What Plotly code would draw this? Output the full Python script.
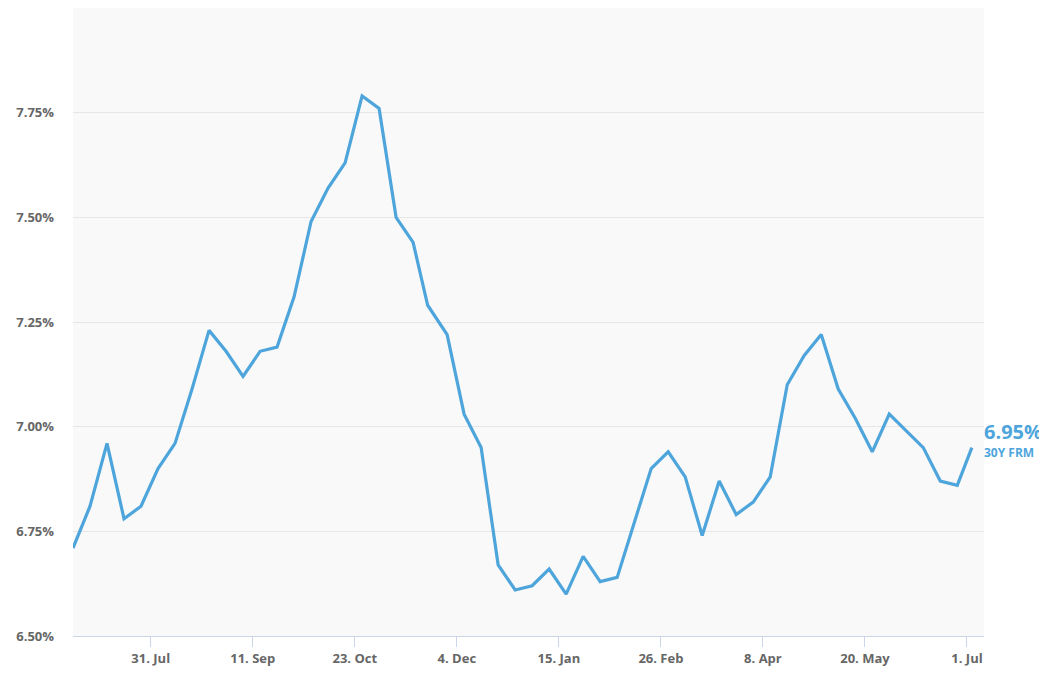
"""
30-year fixed mortgage rate, weekly
"""

import plotly.graph_objects as go

dates = [
    "2023-06-29", "2023-07-06", "2023-07-13", "2023-07-20", "2023-07-27",
    "2023-08-03", "2023-08-10", "2023-08-17", "2023-08-24", "2023-08-31",
    "2023-09-07", "2023-09-14", "2023-09-21", "2023-09-28", "2023-10-05",
    "2023-10-12", "2023-10-19", "2023-10-26", "2023-11-02", "2023-11-09",
    "2023-11-16", "2023-11-22", "2023-11-30", "2023-12-07", "2023-12-14",
    "2023-12-21", "2023-12-28", "2024-01-04", "2024-01-11", "2024-01-18",
    "2024-01-25", "2024-02-01", "2024-02-08", "2024-02-15", "2024-02-22",
    "2024-02-29", "2024-03-07", "2024-03-14", "2024-03-21", "2024-03-28",
    "2024-04-04", "2024-04-11", "2024-04-18", "2024-04-25", "2024-05-02",
    "2024-05-09", "2024-05-16", "2024-05-23", "2024-05-30", "2024-06-06",
    "2024-06-13", "2024-06-20", "2024-06-27", "2024-07-03",
]

rates = [
    6.71, 6.81, 6.96, 6.78, 6.81,
    6.90, 6.96, 7.09, 7.23, 7.18,
    7.12, 7.18, 7.19, 7.31, 7.49,
    7.57, 7.63, 7.79, 7.76, 7.50,
    7.44, 7.29, 7.22, 7.03, 6.95,
    6.67, 6.61, 6.62, 6.66, 6.60,
    6.69, 6.63, 6.64, 6.77, 6.90,
    6.94, 6.88, 6.74, 6.87, 6.79,
    6.82, 6.88, 7.10, 7.17, 7.22,
    7.09, 7.02, 6.94, 7.03, 6.99,
    6.95, 6.87, 6.86, 6.95,
]

tick_dates = [
    "2023-07-31", "2023-09-11", "2023-10-23", "2023-12-04", "2024-01-15",
    "2024-02-26", "2024-04-08", "2024-05-20", "2024-07-01",
]
tick_labels = [
    "31. Jul", "11. Sep", "23. Oct", "4. Dec", "15. Jan",
    "26. Feb", "8. Apr", "20. May", "1. Jul",
]

y_ticks = [6.50, 6.75, 7.00, 7.25, 7.50, 7.75, 8.00]
y_labels = ["6.50%", "6.75%", "7.00%", "7.25%", "7.50%", "7.75%", ""]

series_name = "30Y FRM"
line_color = "#4ea5db"

fig = go.Figure()

fig.add_trace(
    go.Scatter(
        x=dates,
        y=rates,
        mode="lines",
        name=series_name,
        line=dict(color=line_color, width=3.2),
    )
)

# last value label at the right end of the line
fig.add_annotation(
    x=dates[-1],
    y=rates[-1],
    xref="x",
    yref="y",
    text="<b>%.2f%%</b>" % rates[-1],
    showarrow=False,
    xanchor="left",
    yanchor="middle",
    xshift=10,
    yshift=16,
    font=dict(family="Open Sans", size=20, color=line_color),
)
fig.add_annotation(
    x=dates[-1],
    y=rates[-1],
    xref="x",
    yref="y",
    text="<b>" + series_name + "</b>",
    showarrow=False,
    xanchor="left",
    yanchor="middle",
    xshift=10,
    yshift=-5,
    font=dict(family="Open Sans", size=12, color=line_color),
)

# page body has an 8px margin, so the figure is a bit smaller than the window
fig.update_layout(
    width=1039,
    height=670,
    margin=dict(l=65, r=63, t=0, b=42),
    paper_bgcolor="white",
    plot_bgcolor="#f9f9f9",
    showlegend=False,
    font=dict(family="Open Sans", color="#666666"),
)

fig.update_xaxes(
    range=["2023-06-29", "2024-07-08"],
    tickvals=tick_dates,
    ticktext=tick_labels,
    showgrid=False,
    ticks="outside",
    ticklen=10,
    tickcolor="#ccd6eb",
    showline=True,
    linecolor="#ccd6eb",
    linewidth=1,
    tickfont=dict(size=13, color="#666666", weight="bold"),
    zeroline=False,
)

fig.update_yaxes(
    range=[6.5, 8.0],
    tickvals=y_ticks,
    ticktext=y_labels,
    showgrid=True,
    gridcolor="#e6e6e6",
    gridwidth=1,
    ticklabelstandoff=18,
    tickfont=dict(size=13, color="#666666", weight="bold"),
    zeroline=False,
)

fig.write_html("out.html")
